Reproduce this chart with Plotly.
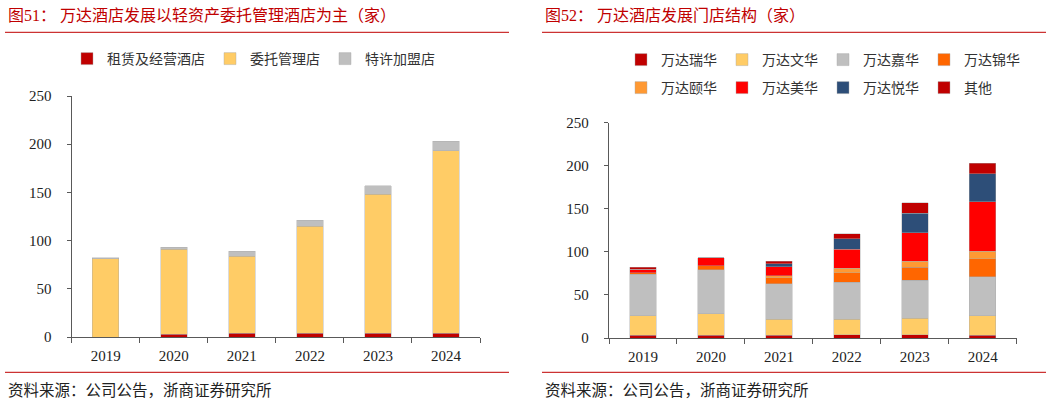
import plotly.graph_objects as go

W, H = 1057, 403

# ---------------- data ----------------
years = ["2019", "2020", "2021", "2022", "2023", "2024"]

# 图51
lease_names = ["租赁及经营酒店", "委托管理店", "特许加盟店"]
lease_operated = [0, 3, 4, 4, 4, 4]
managed = [81, 88, 80, 111, 144, 189]
franchised = [1, 2, 5, 6, 9, 10]

# 图52
brand_names = ["万达瑞华", "万达文华", "万达嘉华", "万达锦华",
               "万达颐华", "万达美华", "万达悦华", "其他"]
ruihua = [3, 3, 3, 4, 4, 3]
wenhua = [23, 25, 19, 18, 19, 23]
jiahua = [48, 51, 41, 43, 44, 45]
jinhua = [2, 5, 7, 11, 15, 21]
yihua = [0, 0, 2, 5, 7, 9]
meihua = [4, 9, 11, 22, 33, 57]
yuehua = [0, 0, 3, 12, 23, 33]
other = [2, 0, 3, 6, 12, 12]

y_ticks = [0, 50, 100, 150, 200, 250]

left_colors = ["#C00000", "#FFCC66", "#BFBFBF"]
brand_colors = ["#C00000", "#FFCC66", "#BFBFBF", "#FF6600",
                "#FF9933", "#FF0000", "#2D4E78", "#C00000"]

TITLE_RED = "#C00000"
FONT = "Liberation Serif, Noto Sans CJK SC, serif"
AXIS_C = "#595959"


def px(x):
    return x / W


def py(y):
    return 1 - y / H


fig = go.Figure()

line_style = dict(color="rgba(170,170,170,0.7)", width=0.6)

for name, vals, col in zip(lease_names, [lease_operated, managed, franchised], left_colors):
    fig.add_trace(go.Bar(x=years, y=vals, name=name, marker=dict(color=col, line=line_style),
                         xaxis="x", yaxis="y", legend="legend"))

brand_vals = [ruihua, wenhua, jiahua, jinhua, yihua, meihua, yuehua, other]
for i, (name, vals, col) in enumerate(zip(brand_names, brand_vals, brand_colors)):
    fig.add_trace(go.Bar(x=years, y=vals, name=name, marker=dict(color=col, line=line_style),
                         xaxis="x2", yaxis="y2",
                         legend="legend2" if i < 4 else "legend3"))

xcommon = dict(type="category", showline=True, linecolor=AXIS_C, linewidth=1.3,
               ticks="outside", tickson="boundaries", ticklen=5, tickcolor=AXIS_C,
               tickwidth=1.3, showgrid=False, zeroline=False,
               tickfont=dict(family=FONT, size=15, color="#222222"),
               ticklabelstandoff=5)
ycommon = dict(range=[0, 250], tickvals=y_ticks, showline=True, linecolor=AXIS_C,
               linewidth=1.3, ticks="outside", ticklen=4, tickcolor=AXIS_C, tickwidth=1.3,
               showgrid=False, zeroline=False,
               tickfont=dict(family=FONT, size=15, color="#222222"),
               ticklabelstandoff=12)

legend_common = dict(orientation="h", bgcolor="rgba(0,0,0,0)", borderwidth=0,
                     font=dict(family=FONT, size=14, color="#333333"),
                     yanchor="middle", xanchor="left", traceorder="normal",
                     itemclick=False, itemdoubleclick=False)

fig.update_layout(
    width=W, height=H,
    margin=dict(l=0, r=0, t=0, b=0, autoexpand=False),
    paper_bgcolor="white", plot_bgcolor="white",
    barmode="stack", bargap=0.61,
    xaxis=dict(domain=[px(71.7), px(480)], anchor="y", **xcommon),
    yaxis=dict(domain=[py(337), py(96)], anchor="x", **ycommon),
    xaxis2=dict(domain=[px(609), px(1016.7)], anchor="y2", **xcommon),
    yaxis2=dict(domain=[py(338), py(122.7)], anchor="x2", **ycommon),
    legend=dict(x=px(67), y=py(59), **legend_common),
    legend2=dict(x=px(621), y=py(60), **legend_common),
    legend3=dict(x=px(621), y=py(88), **legend_common),
    showlegend=True,
)

# titles
title_font = dict(family=FONT, size=16, color=TITLE_RED)
fig.add_annotation(text="图51： 万达酒店发展以轻资产委托管理酒店为主（家）", x=px(6), y=py(15),
                   xref="paper", yref="paper", xanchor="left", yanchor="middle",
                   showarrow=False, font=title_font)
fig.add_annotation(text="图52： 万达酒店发展门店结构（家）", x=px(543), y=py(15),
                   xref="paper", yref="paper", xanchor="left", yanchor="middle",
                   showarrow=False, font=title_font)

# sources
src_font = dict(family=FONT, size=15.5, color="#222222")
for x0 in (6, 543):
    fig.add_annotation(text="资料来源：公司公告，浙商证券研究所", x=px(x0), y=py(390),
                       xref="paper", yref="paper", xanchor="left", yanchor="middle",
                       showarrow=False, font=src_font)

# red separator lines
for (x0, x1) in ((5, 509), (542, 1046)):
    for yy in (32.3, 372.3):
        fig.add_shape(type="line", xref="paper", yref="paper",
                      x0=px(x0), x1=px(x1), y0=py(yy), y1=py(yy),
                      line=dict(color=TITLE_RED, width=1))

fig.write_html("out.html",
               config={"displayModeBar": False},
               post_script="document.body.style.margin='0';document.body.style.overflow='hidden';")
